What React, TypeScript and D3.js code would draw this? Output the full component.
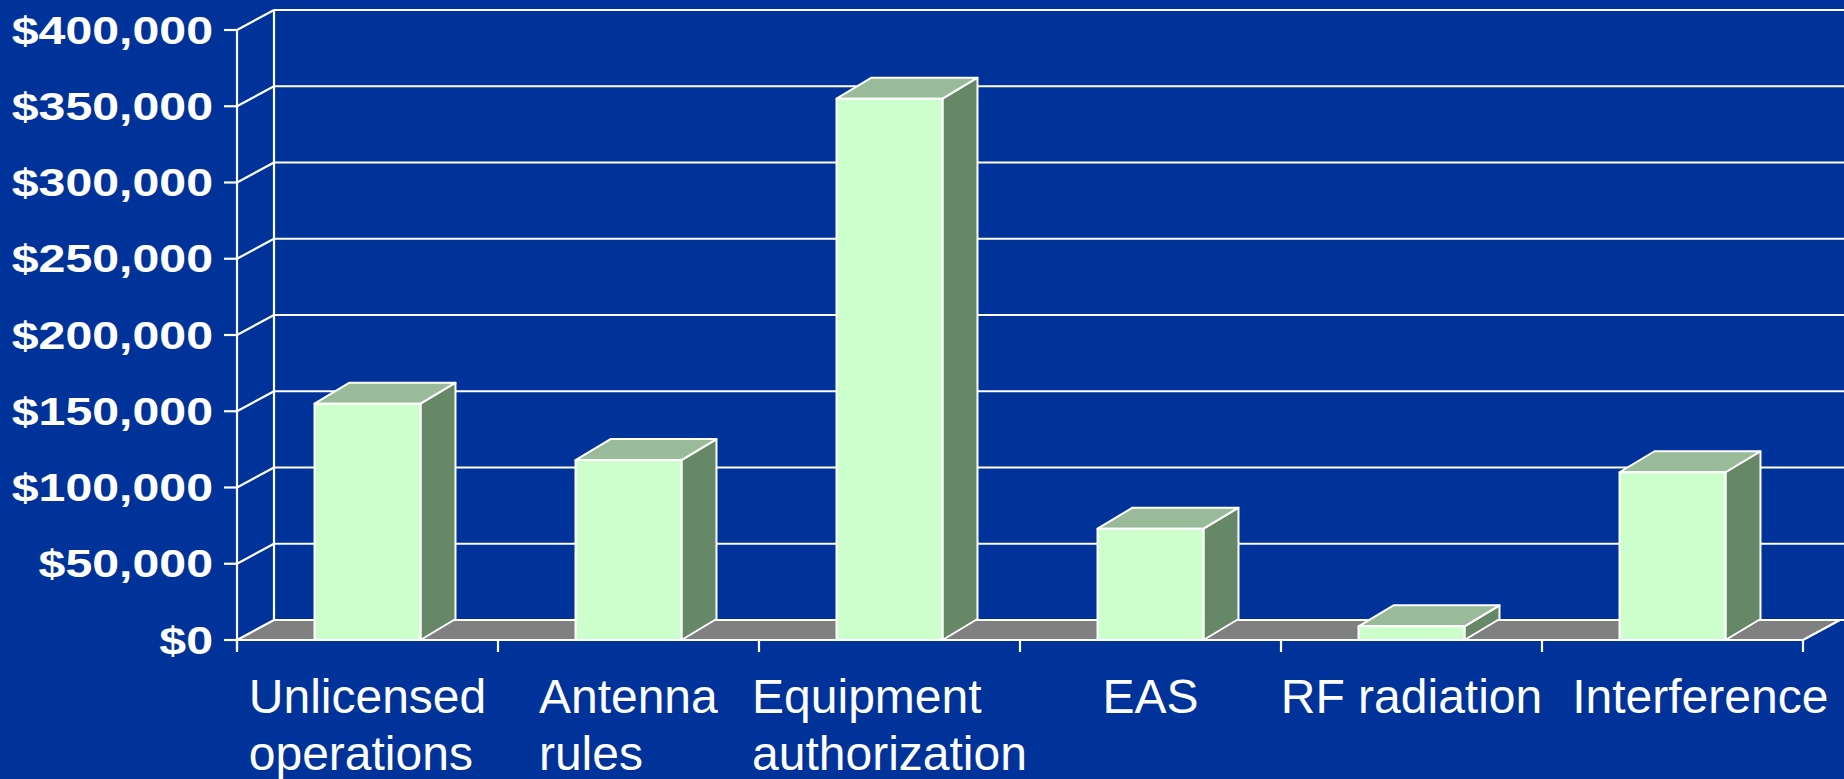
import React, { useRef, useEffect } from 'react';
import * as d3 from 'd3';

// chart data
const categories = ["Unlicensed\noperations", "Antenna\nrules", "Equipment\nauthorization", "EAS", "RF radiation", "Interference"];
const values = [155000, 118000, 355000, 73000, 9000, 110000];
const yTicks = [0, 50000, 100000, 150000, 200000, 250000, 300000, 350000, 400000];

const W = 1844;
const H = 779;

export default function App() {
    const svgRef = useRef<SVGSVGElement>(null);

    useEffect(() => {
        document.body.style.margin = "0";
        if (!svgRef.current) return;
        const svg = d3.select(svgRef.current);
        svg.selectAll("*").remove();

        const left = 237, right = 1803;
        const wallDx = 37, wallDy = -20;   // depth of walls / floor
        const barDx = 35, barDy = -21;     // depth of the bars

        const x = d3.scaleBand<string>().domain(categories).range([left, right]).padding(0);
        const y = d3.scaleLinear().domain([0, 400000]).range([640, 30]);
        const barW = x.bandwidth() * 0.406;

        svg.append("rect").attr("width", W).attr("height", H).attr("fill", "#003399");

        const g = svg.append("g");
        const line = (x1: number, y1: number, x2: number, y2: number, w = 2.2) =>
            g.append("line").attr("x1", x1).attr("y1", y1).attr("x2", x2).attr("y2", y2)
                .attr("stroke", "#ffffff").attr("stroke-width", w);

        // floor
        const y0 = y(0);
        g.append("path")
            .attr("d", `M${left},${y0}L${right},${y0}L${right + wallDx},${y0 + wallDy}L${left + wallDx},${y0 + wallDy}Z`)
            .attr("fill", "#808080");

        // back wall gridlines + side wall diagonals
        yTicks.forEach(t => {
            line(left + wallDx, y(t) + wallDy, W, y(t) + wallDy);
            line(left, y(t), left + wallDx, y(t) + wallDy);
            line(left - 13, y(t), left, y(t));
        });
        // back wall vertical edge
        line(left + wallDx, y(400000) + wallDy, left + wallDx, y0 + wallDy);
        // front vertical axis
        line(left, y(400000), left, y0 + 10);
        // floor right edge + front edge
        line(right, y0, right + wallDx, y0 + wallDy);
        line(left, y0, right, y0);
        // category ticks
        d3.range(categories.length + 1).forEach(i => {
            const tx = left + i * x.step();
            line(tx, y0, tx, y0 + 12);
        });

        // bars
        categories.forEach((c, i) => {
            const cx = x(c)! + x.bandwidth() / 2;
            const x1 = cx - barW / 2, x2 = cx + barW / 2;
            const yt = y(values[i]);
            const common = (p: d3.Selection<SVGPathElement, unknown, null, undefined>) =>
                p.attr("stroke", "#ffffff").attr("stroke-width", 2).attr("stroke-linejoin", "round");
            // side
            common(g.append("path")
                .attr("d", `M${x2},${y0}L${x2 + barDx},${y0 + barDy}L${x2 + barDx},${yt + barDy}L${x2},${yt}Z`)
                .attr("fill", "#668866"));
            // top
            common(g.append("path")
                .attr("d", `M${x1},${yt}L${x2},${yt}L${x2 + barDx},${yt + barDy}L${x1 + barDx},${yt + barDy}Z`)
                .attr("fill", "#99bb99"));
            // front
            common(g.append("path")
                .attr("d", `M${x1},${y0}L${x1},${yt}L${x2},${yt}L${x2},${y0}Z`)
                .attr("fill", "#ccffcc"));
        });

        // y labels
        const fmt = d3.format("$,.0f");
        yTicks.forEach(t => {
            g.append("text")
                .attr("transform", `translate(213,${y(t) + 13.5}) scale(1.27,1)`)
                .attr("text-anchor", "end")
                .attr("fill", "#ffffff")
                .style("font-family", "'Liberation Sans', Arial, sans-serif")
                .style("font-weight", "bold")
                .style("font-size", "38px")
                .text(fmt(t));
        });

        // x labels: left-aligned block centred on the category, nudged apart if they crowd
        let prevEnd = -Infinity;
        categories.forEach(c => {
            const cx = x(c)! + x.bandwidth() / 2;
            const lines = c.split("\n");
            const txt = g.append("text")
                .attr("fill", "#ffffff")
                .style("font-family", "'Liberation Sans', Arial, sans-serif")
                .style("font-size", "48px");
            lines.forEach((l, j) => {
                txt.append("tspan").attr("x", 0).attr("y", 713 + j * 57).text(l);
            });
            const w = (txt.node() as SVGTextElement).getBBox().width;
            const start = Math.max(cx - w / 2, prevEnd + 30);
            txt.attr("transform", `translate(${start},0)`);
            prevEnd = start + w;
        });
    }, []);

    return <svg ref={svgRef} width={W} height={H} style={{ display: "block" }} />;
}
